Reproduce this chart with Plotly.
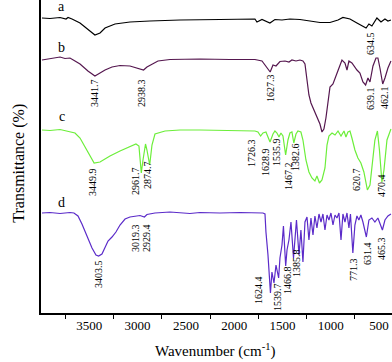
import plotly.graph_objects as go

# FTIR spectra, offset transmittance (arbitrary units) vs wavenumber
wn_a = [3990, 3907, 3803, 3741, 3720, 3679, 3596, 3514, 3441.7, 3389, 3337, 3234, 3079, 2872, 2561, 2147,
        1785, 1764, 1712, 1630, 1578, 1505, 1423, 1319, 1215, 1112, 1008, 925, 874, 801, 729, 677, 634.5,
        605, 574, 522, 480, 439, 408, 377]
tr_a = [295, 294.5, 295.5, 294, 295.5, 294, 290, 284, 278, 280, 285, 289, 291, 292, 293, 293.5,
        294, 291, 293.5, 290, 293.5, 293, 294, 293.5, 292, 290.5, 290.5, 293, 295.5, 294, 290, 287, 285,
        289, 287, 295, 291, 294, 292, 293]

wn_b = [3990, 3907, 3855, 3803, 3752, 3700, 3648, 3596, 3514, 3441.7, 3389, 3337, 3265, 3182, 3079, 2996,
        2938.3, 2903, 2851, 2789, 2665, 2510, 2354, 2043, 1785, 1712, 1671, 1627.3, 1598, 1567, 1526, 1474,
        1433, 1402, 1360, 1319, 1288, 1267, 1246, 1226, 1205, 1174, 1143, 1112, 1091, 1071, 1050, 1029,
        1008, 977, 946, 915, 884, 853, 832, 812, 781, 750, 729, 698, 667, 639.1, 615, 594, 563, 532, 512,
        491, 462.1, 439, 408, 377]
tr_b = [253, 254, 255, 256, 254.5, 255, 252, 249, 242, 237, 240, 243, 246, 247.5, 247, 245,
        243, 246, 249, 252, 253.5, 254, 254, 253.5, 253.5, 252, 247, 241, 248, 247, 251.5, 252,
        251, 253, 252, 253, 252, 249, 233, 218, 210, 203, 196, 189, 181, 184, 195, 213,
        226, 229, 238, 245, 253, 250, 243, 252, 250, 245, 243, 240, 231, 228, 235, 231, 247, 255, 255,
        245, 229, 235, 245, 252]

wn_c = [3990, 3907, 3803, 3720, 3648, 3596, 3545, 3493, 3449.9, 3389, 3337, 3286, 3182, 3079, 3017, 2986,
        2961.7, 2944, 2918, 2903, 2874.7, 2851, 2820, 2716, 2561, 2354, 2043, 1785, 1754, 1726.3, 1702,
        1671, 1628.9, 1598, 1578, 1557, 1535.9, 1516, 1495, 1467.2, 1443, 1423, 1402, 1382.6, 1360, 1340,
        1309, 1288, 1257, 1226, 1195, 1164, 1143, 1117, 1091, 1060, 1039, 1019, 987, 956, 925, 894, 863,
        843, 822, 801, 781, 750, 719, 688, 657, 620.7, 594, 574, 543, 517, 496, 470.4, 449, 418, 387, 377]
tr_c = [183, 182.5, 183.5, 182, 180, 175, 166, 157, 150, 151, 154, 157, 162, 166, 169, 167,
        140, 153, 169, 163, 148, 168, 179, 182, 183, 183, 182.5, 182, 181, 177, 180,
        181, 171, 179, 182, 180, 176, 180, 177, 158, 173, 180, 181, 170, 179, 182,
        181, 173, 153, 141, 135, 132, 137, 130, 133, 145, 168, 177, 180, 178, 182, 177, 182,
        176, 181, 182, 175, 163, 155, 150, 141, 123, 128, 148, 173, 182, 163, 131, 143, 173, 183, 184]

wn_d = [3990, 3907, 3803, 3700, 3659, 3617, 3576, 3524, 3472, 3431, 3403.5, 3369, 3337, 3306, 3265, 3224,
        3182, 3130, 3079, 3019.3, 2975, 2929.4, 2903, 2820, 2665, 2458, 2354, 2147, 1940, 1702, 1681,
        1671, 1650, 1624.4, 1609, 1588, 1567, 1539.7, 1526, 1505, 1490, 1466.8, 1453, 1433, 1412, 1385.8,
        1371, 1355, 1329, 1309, 1288, 1267, 1246, 1226, 1205, 1184, 1164, 1143, 1122, 1101, 1081, 1060,
        1039, 1019, 998, 977, 956, 936, 915, 894, 874, 853, 832, 812, 796, 771.3, 750, 729, 709, 688, 667,
        631.4, 605, 574, 543, 512, 465.3, 439, 408, 377]
tr_d = [100, 100.5, 99.5, 100.5, 100, 97, 89, 77, 65, 58, 57, 59, 65, 72, 76, 81,
        88, 94, 96, 96.5, 97.5, 96, 98.5, 100, 101, 99.5, 100.5, 100, 100.5, 100, 99,
        81, 58, 20, 41, 30, 48, 35, 55, 68, 87, 47, 63, 73, 91, 55,
        78, 93, 58, 83, 51, 91, 96, 73, 95, 78, 97, 85, 99, 91, 99, 83,
        98, 93, 100, 88, 98, 95, 100, 73, 99, 91, 100, 85, 99, 60, 88, 97, 93, 98, 91,
        76, 93, 95, 91, 95, 83, 93, 97, 99]

series_names = ["a", "b", "c", "d"]
series_colors = ["#000000", "#55174f", "#6cee3a", "#5b2bc9"]

# peak labels: text, label x (cm-1), label y
peak_labels = [
    ("3441.7", 3451, 220), ("2938.3", 2965, 220), ("1627.3", 1629, 225),
    ("634.5", 594, 270), ("639.1", 594, 215), ("462.1", 449, 216),
    ("3449.9", 3472, 131), ("2961.7", 3027, 132), ("2874.7", 2903, 138),
    ("1726.3", 1826, 160), ("1628.9", 1681, 151), ("1535.9", 1567, 161),
    ("1467.2", 1443, 137), ("1382.6", 1371, 156), ("620.7", 739, 134), ("470.4", 480, 128),
    ("3403.5", 3410, 39), ("3019.3", 3027, 75), ("2929.4", 2913, 75),
    ("1624.4", 1754, 23), ("1539.7", 1557, 16), ("1466.8", 1453, 33),
    ("1385.8", 1360, 50), ("771.3", 770, 44), ("631.4", 625, 60), ("465.3", 480, 65),
]
letter_y = [307, 266, 197, 111]

fig = go.Figure()
for name, color, x, y in zip(series_names, series_colors,
                             [wn_a, wn_b, wn_c, wn_d], [tr_a, tr_b, tr_c, tr_d]):
    fig.add_trace(go.Scatter(x=x, y=y, mode="lines", name=name,
                             line=dict(color=color, width=1.2), showlegend=False))

serif = "Liberation Serif, Times New Roman, serif"
anns = []
for txt, x, y in peak_labels:
    anns.append(dict(x=x, y=y, text=txt, textangle=-90, showarrow=False,
                     font=dict(family=serif, size=10, color="black")))
for name, y in zip(series_names, letter_y):
    anns.append(dict(x=3783, y=y, text=name, showarrow=False,
                     font=dict(family=serif, size=14, color="black")))
anns.append(dict(xref="paper", yref="paper", x=0.496, y=-0.158, text="Wavenumber (cm<sup>-1</sup>)",
                 showarrow=False, font=dict(family=serif, size=15, color="black")))
anns.append(dict(xref="paper", yref="paper", x=-0.095, y=0.479, text="Transmittance (%)",
                 textangle=-90, showarrow=False, font=dict(family=serif, size=16, color="black")))

fig.update_layout(
    width=392, height=362,
    margin=dict(l=41, r=0, t=0, b=49),
    paper_bgcolor="white", plot_bgcolor="white",
    annotations=anns,
    xaxis=dict(range=[4000, 366], tickmode="array",
               tickvals=[3500, 3000, 2500, 2000, 1500, 1000, 500], ticks="",
               minor=dict(tickmode="array", tickvals=[3750, 3250, 2750, 2250, 1750, 1250, 750],
                          ticks="outside", ticklen=4, tickwidth=1, tickcolor="black"),
               showgrid=False, zeroline=False, showline=True, linecolor="black", linewidth=1.5,
               tickfont=dict(family=serif, size=13, color="black")),
    yaxis=dict(range=[0, 313], showticklabels=False, ticks="", showgrid=False, zeroline=False,
               showline=True, linecolor="black", linewidth=1.5),
)

# drop the default page margin so the figure sits at the window's corner
fig.write_html("out.html", config={"displayModeBar": False},
               post_script="document.body.style.margin='0';")
